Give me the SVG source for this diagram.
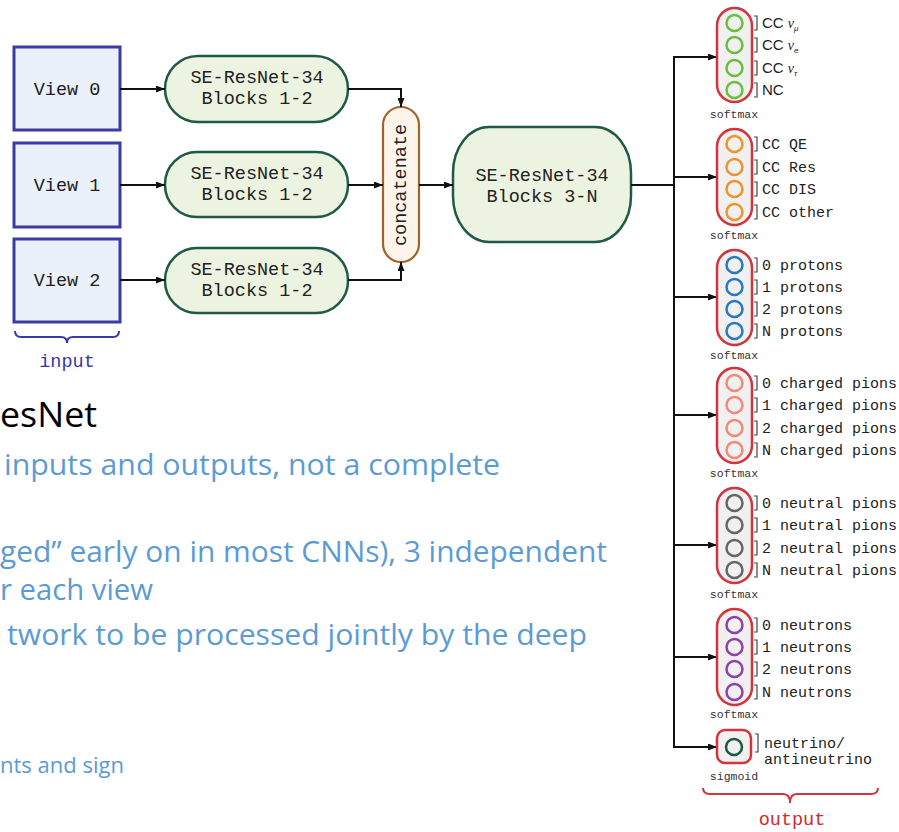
<svg xmlns="http://www.w3.org/2000/svg" width="899" height="832" viewBox="0 0 899 832">
<defs>
<marker id="ah" markerUnits="userSpaceOnUse" markerWidth="9" markerHeight="7" refX="9" refY="3.5" orient="auto"><path d="M0,0 L9,3.5 L0,7 z" fill="#111"/></marker>
<style>
.view{fill:#eaf1fb;stroke:#3b3ba5;stroke-width:3}
.se{fill:#edf3e1;stroke:#1f5a45;stroke-width:2.5}
.mono{font-family:"Liberation Mono","DejaVu Sans Mono",monospace;fill:#222}
.big{font-size:18.5px}
.lbl{font-size:15px}
.sm{font-size:11.5px;fill:#333}
.grp{fill:#f0f0f0;stroke:#d3343c;stroke-width:2.5}
.conn{fill:none;stroke:#111;stroke-width:2}
.brk{fill:none;stroke:#444;stroke-width:1.2}
.cir{fill:none;stroke-width:2.5}
.note{font-family:"Open Sans","Noto Sans",sans-serif;fill:#5b9bd5}
</style>
</defs>
<rect width="899" height="832" fill="#fff"/>

<g id="view0"><rect class="view" x="14" y="47" width="106" height="83"/><text class="mono big" x="67" y="95" text-anchor="middle">View 0</text></g>
<g id="view1"><rect class="view" x="14" y="143" width="106" height="84"/><text class="mono big" x="67" y="191" text-anchor="middle">View 1</text></g>
<g id="view2"><rect class="view" x="14" y="239" width="106" height="83"/><text class="mono big" x="67" y="286" text-anchor="middle">View 2</text></g>
<g id="input-label"><path d="M15,331 q0,6 6,6 h40 q6,0 6,6 q0,-6 6,-6 h40 q6,0 6,-6" fill="none" stroke="#3b3ba5" stroke-width="2"/><text class="mono" x="67" y="367" text-anchor="middle" font-size="18.5" style="fill:#3838a0">input</text></g>

<g id="se0"><rect class="se" x="165" y="56" width="183" height="66" rx="33"/><text class="mono big" x="257" y="83" text-anchor="middle">SE-ResNet-34</text><text class="mono big" x="257" y="104" text-anchor="middle">Blocks 1-2</text></g>
<g id="se1"><rect class="se" x="165" y="152" width="183" height="65" rx="32"/><text class="mono big" x="257" y="179" text-anchor="middle">SE-ResNet-34</text><text class="mono big" x="257" y="200" text-anchor="middle">Blocks 1-2</text></g>
<g id="se2"><rect class="se" x="165" y="248" width="183" height="65" rx="32"/><text class="mono big" x="257" y="275" text-anchor="middle">SE-ResNet-34</text><text class="mono big" x="257" y="296" text-anchor="middle">Blocks 1-2</text></g>

<g id="concat"><rect x="383" y="107" width="36" height="155" rx="18" fill="#fdf5ec" stroke="#a0632a" stroke-width="2.2"/><text class="mono big" transform="translate(401,185) rotate(-90)" text-anchor="middle" dominant-baseline="central">concatenate</text></g>

<g id="se-deep"><rect class="se" x="453" y="127" width="178" height="115" rx="36" ry="46"/><text class="mono big" x="542" y="181" text-anchor="middle">SE-ResNet-34</text><text class="mono big" x="542" y="202" text-anchor="middle">Blocks 3-N</text></g>

<g id="connectors">
<path class="conn" d="M120,89 H165" marker-end="url(#ah)"/>
<path class="conn" d="M120,185 H165" marker-end="url(#ah)"/>
<path class="conn" d="M120,280 H165" marker-end="url(#ah)"/>
<path class="conn" d="M348,89 H401 V107" marker-end="url(#ah)"/>
<path class="conn" d="M348,185 H383" marker-end="url(#ah)"/>
<path class="conn" d="M348,280 H401 V262" marker-end="url(#ah)"/>
<path class="conn" d="M419,185 H453" marker-end="url(#ah)"/>
<path class="conn" d="M631,185 H674"/>
<path class="conn" d="M674,56 V748"/>
<path class="conn" d="M673,57 H717" marker-end="url(#ah)"/>
<path class="conn" d="M673,177 H717" marker-end="url(#ah)"/>
<path class="conn" d="M673,297 H717" marker-end="url(#ah)"/>
<path class="conn" d="M673,415 H717" marker-end="url(#ah)"/>
<path class="conn" d="M673,545 H717" marker-end="url(#ah)"/>
<path class="conn" d="M673,657 H717" marker-end="url(#ah)"/>
<path class="conn" d="M673,747 H717" marker-end="url(#ah)"/>
</g>

<g id="out-flavour">
<rect class="grp" x="717" y="8" width="35" height="94" rx="17.5"/>
<g class="cir" stroke="#6cbf3c"><circle cx="734.5" cy="23" r="8"/><circle cx="734.5" cy="45" r="8"/><circle cx="734.5" cy="68" r="8"/><circle cx="734.5" cy="90" r="8"/></g>
<path class="brk" d="M754,16 h3 v14 h-3 M754,38 h3 v14 h-3 M754,61 h3 v14 h-3 M754,83 h3 v14 h-3"/>
<g font-family="Liberation Sans,Arial,sans-serif" font-size="15" fill="#222">
<text x="762" y="28">CC <tspan font-family="Liberation Serif,serif" font-style="italic" font-size="14">ν</tspan><tspan font-size="8" dy="3" font-style="italic">μ</tspan></text>
<text x="762" y="50">CC <tspan font-family="Liberation Serif,serif" font-style="italic" font-size="14">ν</tspan><tspan font-size="8" dy="3" font-style="italic">e</tspan></text>
<text x="762" y="73">CC <tspan font-family="Liberation Serif,serif" font-style="italic" font-size="14">ν</tspan><tspan font-size="8" dy="3" font-style="italic">τ</tspan></text>
<text x="762" y="95">NC</text>
</g>
<text class="mono sm" x="734" y="118" text-anchor="middle">softmax</text>
</g>

<g id="out-interaction">
<rect class="grp" x="717" y="129" width="35" height="96" rx="17.5"/>
<g class="cir" stroke="#f0922e"><circle cx="734.5" cy="144" r="8"/><circle cx="734.5" cy="167" r="8"/><circle cx="734.5" cy="189" r="8"/><circle cx="734.5" cy="212" r="8"/></g>
<path class="brk" d="M754,137 h3 v14 h-3 M754,160 h3 v14 h-3 M754,182 h3 v14 h-3 M754,205 h3 v14 h-3"/>
<text class="mono lbl" x="762" y="149">CC QE</text><text class="mono lbl" x="762" y="172">CC Res</text><text class="mono lbl" x="762" y="194">CC DIS</text><text class="mono lbl" x="762" y="217">CC other</text>
<text class="mono sm" x="734" y="239" text-anchor="middle">softmax</text>
</g>

<g id="out-protons">
<rect class="grp" x="717" y="250" width="35" height="95" rx="17.5"/>
<g class="cir" stroke="#2a78c0"><circle cx="734.5" cy="265" r="8"/><circle cx="734.5" cy="287" r="8"/><circle cx="734.5" cy="309" r="8"/><circle cx="734.5" cy="331" r="8"/></g>
<path class="brk" d="M754,258 h3 v14 h-3 M754,280 h3 v14 h-3 M754,302 h3 v14 h-3 M754,324 h3 v14 h-3"/>
<text class="mono lbl" x="762" y="270">0 protons</text><text class="mono lbl" x="762" y="292">1 protons</text><text class="mono lbl" x="762" y="314">2 protons</text><text class="mono lbl" x="762" y="336">N protons</text>
<text class="mono sm" x="734" y="359" text-anchor="middle">softmax</text>
</g>

<g id="out-charged-pions">
<rect class="grp" x="717" y="368" width="35" height="95" rx="17.5"/>
<g class="cir" stroke="#f28a78"><circle cx="734.5" cy="383" r="8"/><circle cx="734.5" cy="405" r="8"/><circle cx="734.5" cy="428" r="8"/><circle cx="734.5" cy="450" r="8"/></g>
<path class="brk" d="M754,376 h3 v14 h-3 M754,398 h3 v14 h-3 M754,421 h3 v14 h-3 M754,443 h3 v14 h-3"/>
<text class="mono lbl" x="762" y="388">0 charged pions</text><text class="mono lbl" x="762" y="410">1 charged pions</text><text class="mono lbl" x="762" y="433">2 charged pions</text><text class="mono lbl" x="762" y="455">N charged pions</text>
<text class="mono sm" x="734" y="477" text-anchor="middle">softmax</text>
</g>

<g id="out-neutral-pions">
<rect class="grp" x="717" y="488" width="35" height="95" rx="17.5"/>
<g class="cir" stroke="#666"><circle cx="734.5" cy="503" r="8"/><circle cx="734.5" cy="525" r="8"/><circle cx="734.5" cy="548" r="8"/><circle cx="734.5" cy="570" r="8"/></g>
<path class="brk" d="M754,496 h3 v14 h-3 M754,518 h3 v14 h-3 M754,541 h3 v14 h-3 M754,563 h3 v14 h-3"/>
<text class="mono lbl" x="762" y="508">0 neutral pions</text><text class="mono lbl" x="762" y="530">1 neutral pions</text><text class="mono lbl" x="762" y="553">2 neutral pions</text><text class="mono lbl" x="762" y="575">N neutral pions</text>
<text class="mono sm" x="734" y="598" text-anchor="middle">softmax</text>
</g>

<g id="out-neutrons">
<rect class="grp" x="717" y="609" width="35" height="96" rx="17.5"/>
<g class="cir" stroke="#9040a8"><circle cx="734.5" cy="625" r="8"/><circle cx="734.5" cy="647" r="8"/><circle cx="734.5" cy="669" r="8"/><circle cx="734.5" cy="692" r="8"/></g>
<path class="brk" d="M754,618 h3 v14 h-3 M754,640 h3 v14 h-3 M754,662 h3 v14 h-3 M754,685 h3 v14 h-3"/>
<text class="mono lbl" x="762" y="630">0 neutrons</text><text class="mono lbl" x="762" y="652">1 neutrons</text><text class="mono lbl" x="762" y="674">2 neutrons</text><text class="mono lbl" x="762" y="697">N neutrons</text>
<text class="mono sm" x="734" y="718" text-anchor="middle">softmax</text>
</g>

<g id="out-sign">
<rect class="grp" x="717" y="730" width="34" height="33" rx="8"/>
<circle class="cir" cx="734" cy="747" r="8" stroke="#1a5a40"/>
<path class="brk" d="M755,734 h3 v18 h-3"/>
<text class="mono lbl" x="764" y="748">neutrino/</text><text class="mono lbl" x="764" y="764">antineutrino</text>
<text class="mono sm" x="734" y="780" text-anchor="middle">sigmoid</text>
</g>

<g id="output-label"><path d="M703,788 q0,6 7,6 h73 q7,0 7,9 q0,-9 7,-9 h74 q7,0 7,-6" fill="none" stroke="#d3343c" stroke-width="2"/><text class="mono" x="792" y="825" text-anchor="middle" font-size="18.5" style="fill:#d02a2a">output</text></g>

<g id="notes">
<text x="0" y="427" font-family="Open Sans,Noto Sans,sans-serif" font-size="34" fill="#000" textLength="97" lengthAdjust="spacingAndGlyphs">esNet</text>
<text class="note" x="4" y="475" font-size="30" textLength="496" lengthAdjust="spacingAndGlyphs">inputs and outputs, not a complete</text>
<text class="note" x="0" y="562" font-size="30" textLength="607" lengthAdjust="spacingAndGlyphs">ged” early on in most CNNs), 3 independent</text>
<text class="note" x="0" y="600" font-size="30" textLength="153" lengthAdjust="spacingAndGlyphs">r each view</text>
<text class="note" x="7" y="645" font-size="30" textLength="580" lengthAdjust="spacingAndGlyphs">twork to be processed jointly by the deep</text>
<text class="note" x="0" y="773" font-size="22" textLength="124" lengthAdjust="spacingAndGlyphs">nts and sign</text>
</g>
</svg>
